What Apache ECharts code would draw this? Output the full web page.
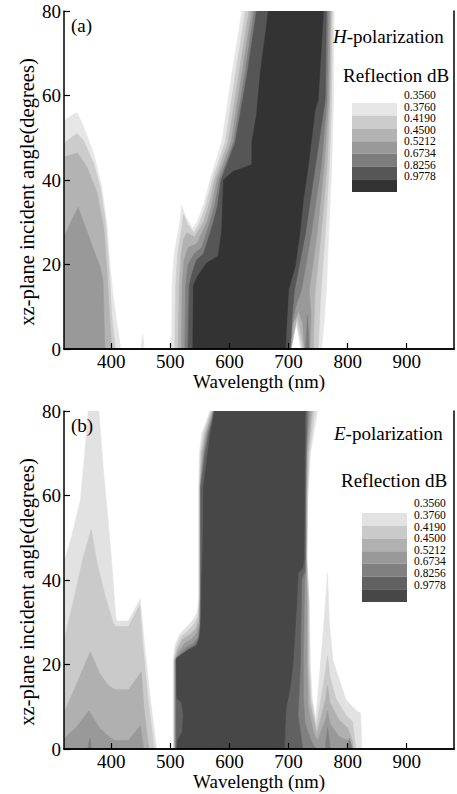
<!DOCTYPE html>
<html><head><meta charset="utf-8">
<script src="https://cdn.jsdelivr.net/npm/echarts@6/dist/echarts.min.js"></script>
<style>html,body{margin:0;padding:0;background:#fff}#c{width:457px;height:794px}</style>
</head><body><div id="c"></div><script>
// ---- axes / legend ----
const wavelengthRange = [320, 980];
const angleRange = [0, 80];
const wavelengthTicks = [400, 500, 600, 700, 800, 900];
const angleTicks = [0, 20, 40, 60, 80];
const legendLabels = ['0.3560', '0.3760', '0.4190', '0.4500', '0.5212', '0.6734', '0.8256', '0.9778'];
const bandNames = ['b0', 'b1', 'b2', 'b3', 'b4', 'b5', 'b6'];
const bandColorsH = ['#e6e6e6', '#cccccc', '#b3b3b3', '#999999', '#7d7d7d', '#565656', '#333333'];
const bandColorsE = ['#e2e2e2', '#cacaca', '#b0b0b0', '#999999', '#808080', '#616161', '#474747'];

// ---- (a) H-polarization: contour regions [wavelength nm, angle deg]; level k = reflection above k-th legend value ----
const hBlobL0 = [[320,0],[320,54],[330,55],[342,56],[351,53.4],[370,46.3],[384,38.4],[393,29],[398,19.5],[404,11.7],[412,3.8],[416,0]];
const hBlobL1 = [[320,0],[320,48.7],[332,50],[342,51],[353,49.4],[370,44],[381,38.4],[390,30.5],[396,19.5],[401,7.7],[407,0]];
const hBlobL2 = [[320,0],[320,45.5],[333,46],[343,46.4],[359,43],[376,36.9],[387,29],[393,18],[397,7.7],[401,0]];
const hBlobL3 = [[320,0],[320,26.5],[335,31],[344,33.5],[364,25.8],[381,19.4],[386,16.3],[389,0]];
const hSpikeL0 = [[450,0],[453,3.5],[456,0]];
const hBandL0 = [[502,0],[503,15],[506,22],[512,27],[516,30],[519,34],[527,31],[538,28.5],[545,30],[556,34],[567,40],[587,49],[604,65],[621,80],
  [777,80],[776,59],[773,43],[768,27],[764,14],[760,6],[756,0],[721,0],[713,6],[705,0]];
const hBandL1 = [[507.5,0],[509,15],[512,22],[517,27],[520,29.5],[522,32],[529,29.5],[540,27.5],[550,30],[560,34],[571,40],[593,49],[610,65],[627,80],
  [774,80],[773,59],[769,43],[762,27],[755,14],[752,6],[750,0],[723,0],[713,7],[704,0]];
const hBandL2 = [[513,0],[515,15],[518,22],[522,26],[528,27.5],[541,26.5],[556,30],[565,34],[575,40],[598,49],[616,65],[633,80],
  [772,80],[770,59],[765,43],[755,27],[745,14],[743,6],[742,0],[726,0],[715,8],[704,0]];
const hBandL3 = [[518.8,0],[520,15],[523,21],[530,24],[545,25],[562,30],[570,34],[579,40],[603,49],[621,65],[638,80],
  [770,80],[768,59],[760,43],[748,27],[735,14],[738,8],[736,0],[727,0],[724,6],[717,9],[708,6],[704,0]];
const hBandL4 = [[524.5,0],[526,15],[530,20],[540,22.5],[553,24],[567,30],[575,34],[583,40],[607,49],[626,65],[642,80],
  [767,80],[765,59],[755,43],[738,27],[722,14],[712,10],[706,6],[703,0]];
const hSpikeL4 = [[729,0],[732,8],[735,0]];
const hBandL5 = [[530,0],[532,15],[537,18],[544,21],[556,22.5],[573,30],[580,34],[586,40],[610,49],[630,65],[646,80],
  [764,80],[762,59],[745,43],[728,27],[710,14],[706,8],[704,3],[702,0]];
const hBandL6 = [[538,0],[539,15],[545,17],[561,20.3],[575,21.5],[581,22],[587,28],[590,40],[606,42],[638,43.6],[638,49],[646,55.5],[652,65],[666,80],
  [759,80],[750,59],[745,56.6],[733,43],[725,35.3],[719,27.4],[711,19.5],[700,14],[696,4],[695,0]];

// ---- (b) E-polarization ----
const eBlobL0 = [[320,0],[320,44],[334,51],[348,59],[358,74.6],[361,80],[379,80],[386,67],[394,55],[402,42],[407,32],[409,30.3],[429,30.3],[449,35.5],[456,25],[466,12],[474,3],[477,0]];
const eBlobL1 = [[320,0],[320,25.5],[336,35],[352,45],[366,52],[376,44],[390,36],[403,30],[407,29],[429,29],[448,34],[453,25],[462,12],[470,3],[473,0]];
const eBlobL2 = [[320,0],[320,8.5],[340,15],[364.5,23],[380,18],[395,15],[407,14],[429,14],[451,18.3],[455,10],[461,3],[464,0]];
const eBlobL3 = [[320,0],[320,2.5],[340,5],[362,9],[380,5],[395,3],[406,2],[429,2],[449,5.5],[455,0]];
const eBlobL4 = [[360,0],[364,2.5],[367,0]];
const eBandL0 = [[505,0],[505,21],[508,24.5],[515,27],[528,29],[538,30.5],[546,32.5],[548,36],[548,62],[549,70],[553,74.6],[562,78],[567,80],
  [749,80],[737,70],[733,60],[731,45],[735,35],[737,20],[740,12],[746,7],[760,30],[766,41.6],[769,30],[775,21],[797,11.7],[815,9],[822,8.5],[824,0]];
const eBandL1 = [[506,0],[506,21],[510,24],[518,26.5],[530,28],[540,29.5],[547,31.5],[549,36],[549,62],[551,70],[556,74.6],[564,78],[569,80],
  [744,80],[735,70],[732,60],[731,45],[734,35],[735,20],[738,12],[747,5],[762,18],[766,22],[770,17],[780,12],[797,8],[808,6.5],[814,0]];
const eBandL2 = [[507,0],[507,21],[512,23.5],[521,26],[533,27],[543,28.5],[548,30.5],[550,36],[550,62],[553,70],[559,74.6],[566,78],[571,80],
  [740,80],[733,70],[731,60],[730,45],[733,35],[733,20],[736,11],[748,3.5],[763,12],[766,15],[770,11],[785,7],[800,5],[808,2],[810,0]];
const eBandL3 = [[508,0],[508,21],[514,23],[524,25],[536,26],[545,27.5],[549,30],[550.5,36],[550.5,62],[555,70],[561,74.6],[568,78],[572,80],
  [737,80],[731,70],[730,60],[729.5,45],[731,35],[731,20],[733,10],[742,4],[749,2],[763,7],[766,9],[770,6],[785,3],[800,2],[806,0]];
const eBandL4 = [[509,0],[509,21],[516,22.5],[527,24],[539,25],[547,26.5],[550,29.5],[551,36],[551,62],[557,70],[563,74.6],[570,78],[573,80],
  [734,80],[730,70],[729,60],[729,45],[729,42],[727,40],[726,30],[725,20],[725,12],[728,6],[738,2],[746,0]];
const eSpikeL4a = [[762,0],[766,5],[771,0]];
const eSpikeL4b = [[798,0],[803,2.5],[808,0]];
const eBandL5 = [[510,0],[510,21],[518,22],[529,23.5],[542,24.5],[548,26],[551,29],[551.5,36],[551.5,62],[559,70],[565,74.6],[571,78],[574,80],
  [731,80],[729.5,70],[728.5,60],[728,45],[727,42],[722,40],[721,30],[720,20],[718,14],[716,8],[720,4],[724,0]];
const eBandL6 = [[511,0],[512,2],[520,4],[522,8],[519,11],[511,12],[510,21.5],[520,22.5],[531,23.5],[545,24.5],[550,27],[552,31],[553,40],[555,48],[556,62],[564,70.7],[568,74.6],[575,80],
  [728,80],[727,60],[726,45],[724,43],[716,41.5],[714,35],[711,28],[707,19.5],[702,14],[696,10],[694,5],[693,0]];

// layering (drawn in order, lowest level first)
const hLayers = [[hBlobL0,0],[hBlobL1,1],[hBlobL2,2],[hBlobL3,3],[hSpikeL0,0],
  [hBandL0,0],[hBandL1,1],[hBandL2,2],[hBandL3,3],[hBandL4,4],[hSpikeL4,4],[hBandL5,5],[hBandL6,6]];
const eLayers = [[eBlobL0,0],[eBlobL1,1],[eBlobL2,2],[eBlobL3,3],[eBlobL4,4],
  [eBandL0,0],[eBandL1,1],[eBandL2,2],[eBandL3,3],[eBandL4,4],[eSpikeL4a,4],[eSpikeL4b,4],[eBandL5,5],[eBandL6,6]];

const FONT = 'Liberation Serif';
const chart = echarts.init(document.getElementById('c'), null, {renderer: 'svg'});

function polySeries(axisIdx, pts, color, z) {
  return {
    type: 'custom', xAxisIndex: axisIdx, yAxisIndex: axisIdx, data: pts, silent: true,
    animation: false, clip: true, z: z,
    encode: {x: 0, y: 1},
    renderItem: function (params, api) {
      if (params.dataIndex !== 0) return null;
      const points = pts.map(p => api.coord(p));
      return {type: 'polygon', shape: {points: points}, style: {fill: color, stroke: color, lineWidth: 0.6}};
    }
  };
}

const panelTops = [11, 411];
const grids = [], xAxes = [], yAxes = [], series = [];
panelTops.forEach((top, p) => {
  grids.push({left: 64, top: top, width: 390, height: 338, containLabel: false});
  const base = {min: wavelengthRange[0], max: wavelengthRange[1], type: 'value', gridIndex: p, z: 10, splitLine: {show: false}};
  xAxes.push(Object.assign({}, base, {
    position: 'bottom',
    axisLine: {lineStyle: {color: '#000', width: 1.5}},
    axisTick: {inside: true, length: 6, lineStyle: {color: '#000', width: 1.2}, customValues: wavelengthTicks},
    axisLabel: {color: '#000', fontFamily: FONT, fontSize: 19, margin: 3, customValues: wavelengthTicks},
    name: 'Wavelength (nm)', nameLocation: 'middle', nameGap: 16,
    nameTextStyle: {color: '#000', fontFamily: FONT, fontSize: 19}
  }));
  xAxes.push(Object.assign({}, base, {
    position: 'top', axisLine: {lineStyle: {color: '#000', width: 1.5}},
    axisTick: {show: false}, axisLabel: {show: false}
  }));
  const ybase = {min: angleRange[0], max: angleRange[1], type: 'value', gridIndex: p, z: 10, splitLine: {show: false}};
  yAxes.push(Object.assign({}, ybase, {
    position: 'left', interval: 20,
    axisLine: {lineStyle: {color: '#000', width: 1.5}},
    axisTick: {inside: true, length: 6, lineStyle: {color: '#000', width: 1.2}, customValues: angleTicks},
    axisLabel: {color: '#000', fontFamily: FONT, fontSize: 19, margin: 3, customValues: angleTicks}
  }));
  yAxes.push(Object.assign({}, ybase, {
    position: 'right', axisLine: {lineStyle: {color: '#000', width: 1.5}},
    axisTick: {show: false}, axisLabel: {show: false}
  }));
});
hLayers.forEach((l, i) => series.push(polySeries(0, l[0], bandColorsH[l[1]], 2 + i * 0.01)));
eLayers.forEach((l, i) => series.push(polySeries(2, l[0], bandColorsE[l[1]], 2 + i * 0.01)));

// colour bars and their labels
const bars = [
  {barTop: 103, barLeft: 352, labTop: 95, colors: bandColorsH},
  {barTop: 513, barLeft: 362, labTop: 503.3, colors: bandColorsE}
];
bars.forEach((b) => {
  const gi = grids.length;
  grids.push({left: b.barLeft, top: b.barTop, width: 45, height: 89});
  xAxes.push({type: 'value', gridIndex: gi, min: 0, max: 1, show: false});
  yAxes.push({type: 'category', gridIndex: gi, data: bandNames, inverse: true, show: false});
  series.push({type: 'bar', xAxisIndex: xAxes.length - 1, yAxisIndex: yAxes.length - 1, barWidth: '100%', silent: true, animation: false,
    data: b.colors.map(c => ({value: 1, itemStyle: {color: c}}))});
  const gl = grids.length;
  grids.push({left: b.barLeft + 32, top: b.labTop, width: 18, height: 11.6 * 7});
  xAxes.push({type: 'value', gridIndex: gl, min: 0, max: 1, show: false});
  yAxes.push({type: 'category', gridIndex: gl, data: legendLabels, inverse: true, boundaryGap: false, position: 'right',
    axisLine: {show: false}, axisTick: {show: false},
    axisLabel: {color: '#000', fontFamily: FONT, fontSize: 11.5, lineHeight: 11.5, margin: 2, interval: 0}});
  series.push({type: 'line', xAxisIndex: xAxes.length - 1, yAxisIndex: yAxes.length - 1, data: [], silent: true});
});

const txt = (x, y, text, size, extra) => Object.assign({
  type: 'text', x: x, y: y, silent: true, z: 100,
  style: Object.assign({text: text, fontFamily: FONT, fontSize: size, fill: '#000', verticalAlign: 'middle', align: 'left'}, extra || {})
});
const graphics = [
  txt(71, 25, '(a)', 19), txt(71, 425, '(b)', 19),
  txt(333, 36, '{i|H}-polarization', 19, {rich: {i: {fontStyle: 'italic', fontFamily: FONT, fontSize: 19}}}),
  txt(334, 433, '{i|E}-polarization', 19, {rich: {i: {fontStyle: 'italic', fontFamily: FONT, fontSize: 19}}}),
  txt(343, 75, 'Reflection dB', 19), txt(341, 480, 'Reflection dB', 19),
  Object.assign(txt(27, 192, 'xz-plane incident angle(degrees)', 20.5, {align: 'center'}), {rotation: Math.PI / 2}),
  Object.assign(txt(27, 592, 'xz-plane incident angle(degrees)', 20.5, {align: 'center'}), {rotation: Math.PI / 2})
];

chart.setOption({
  animation: false,
  backgroundColor: '#fff',
  grid: grids, xAxis: xAxes, yAxis: yAxes, series: series, graphic: graphics
});
</script></body></html>
